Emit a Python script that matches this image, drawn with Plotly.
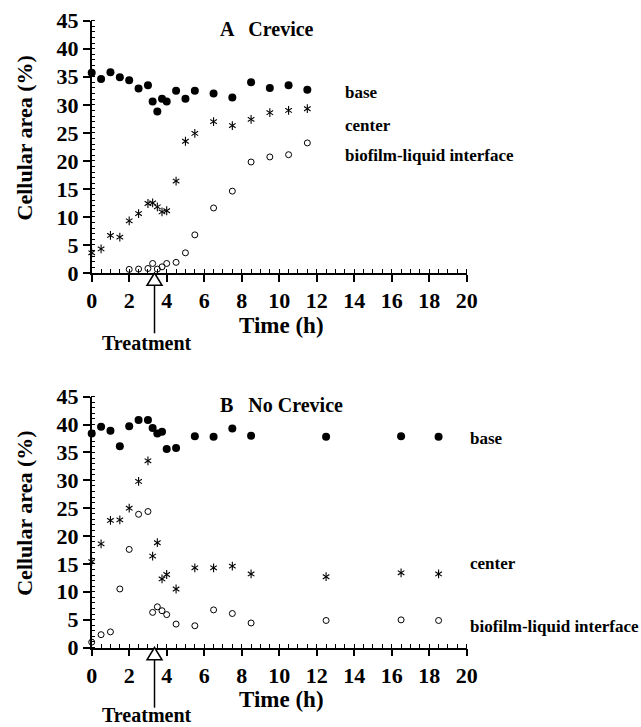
import plotly.graph_objects as go

# ---------------- data ----------------
# Panel A: Crevice
a_time = [0, 0.5, 1.0, 1.5, 2.0, 2.5, 3.0, 3.25, 3.5, 3.75, 4.0, 4.5, 5.0, 5.5, 6.5, 7.5, 8.5, 9.5, 10.5, 11.5]
a_base = [35.7, 34.6, 35.8, 34.9, 34.4, 32.9, 33.5, 30.6, 28.8, 31.1, 30.6, 32.5, 31.1, 32.5, 32.0, 31.3, 34.0, 33.0, 33.5, 32.7]
a_center = [3.6, 4.3, 6.7, 6.4, 9.3, 10.6, 12.4, 12.5, 11.8, 10.9, 11.1, 16.4, 23.5, 24.9, 27.0, 26.3, 27.4, 28.6, 29.0, 29.3]
a_iface_time = [2.0, 2.5, 3.0, 3.25, 3.5, 3.75, 4.0, 4.5, 5.0, 5.5, 6.5, 7.5, 8.5, 9.5, 10.5, 11.5]
a_iface = [0.65, 0.7, 0.8, 1.7, 0.7, 1.1, 1.7, 1.9, 3.6, 6.8, 11.6, 14.6, 19.8, 20.7, 21.1, 23.2]

# Panel B: No Crevice
b_time = [0, 0.5, 1.0, 1.5, 2.0, 2.5, 3.0, 3.25, 3.5, 3.75, 4.0, 4.5, 5.5, 6.5, 7.5, 8.5, 12.5, 16.5, 18.5]
b_base = [38.4, 39.6, 38.9, 36.1, 39.7, 40.8, 40.8, 39.4, 38.4, 38.7, 35.6, 35.8, 37.9, 37.8, 39.3, 38.0, 37.8, 37.9, 37.8]
b_center = [15.4, 18.6, 22.8, 22.9, 25.0, 29.8, 33.5, 16.4, 18.8, 12.3, 13.1, 10.5, 14.3, 14.3, 14.6, 13.2, 12.7, 13.4, 13.2]
b_iface = [0.96, 2.3, 2.8, 10.5, 17.6, 23.9, 24.4, 6.3, 7.3, 6.6, 5.9, 4.2, 3.9, 6.75, 6.1, 4.4, 4.85, 4.96, 4.85]

x_ticks = [0, 2, 4, 6, 8, 10, 12, 14, 16, 18, 20]
y_ticks = [0, 5, 10, 15, 20, 25, 30, 35, 40, 45]
TREATMENT_H = 3.35
X_MAX = 20
Y_MAX = 45

series_labels = ["base", "center", "biofilm-liquid interface"]
panel_titles = ["A   Crevice", "B   No Crevice"]

FONT = "Liberation Serif"
W, H = 641, 727

fig = go.Figure()

panels = [
    dict(t=a_time, base=a_base, center=a_center, it=a_iface_time, iface=a_iface,
         xa="x", ya="y", top=20.7, bottom=273.0,
         lab_x=0.67, lab_y=[0.717, 0.586, 0.465], title_y=0.966, ytitle_y=0.534,
         tri_base=-0.049, line_end=-0.239, treat_y=-0.279, time_y=-0.207),
    dict(t=b_time, base=b_base, center=b_center, it=b_time, iface=b_iface,
         xa="x2", ya="y2", top=396.7, bottom=647.5,
         lab_x=1.0035, lab_y=[0.833, 0.333, 0.085], title_y=0.966, ytitle_y=0.534,
         tri_base=-0.049, line_end=-0.24, treat_y=-0.27, time_y=-0.206),
]

x_left, x_right = 91.7, 466.7
shapes = []
annotations = []
for i, p in enumerate(panels):
    common = dict(xaxis=p["xa"], yaxis=p["ya"], mode="markers", cliponaxis=False,
                  showlegend=False, hoverinfo="skip")
    fig.add_trace(go.Scatter(x=p["t"], y=p["base"], name="base",
                             marker=dict(symbol="circle", size=8, color="black"), **common))
    for sym in ["y-up-open", "y-down-open"]:
        fig.add_trace(go.Scatter(x=p["t"], y=p["center"], name="center",
                                 marker=dict(symbol=sym, size=5.5, color="black",
                                             line=dict(color="black", width=1.1)), **common))
    fig.add_trace(go.Scatter(x=p["it"], y=p["iface"], name="biofilm-liquid interface",
                             marker=dict(symbol="circle-open", size=6, color="black",
                                         line=dict(color="black", width=1)), **common))

    xd = f"{p['xa']} domain"
    yd = f"{p['ya']} domain"
    tx = TREATMENT_H / X_MAX
    hw = 0.02
    shapes.append(dict(type="path", xref=xd, yref=yd,
                       path=f"M {tx},0 L {tx-hw},{p['tri_base']} L {tx+hw},{p['tri_base']} Z",
                       line=dict(color="black", width=1.5), fillcolor="white", layer="above"))
    shapes.append(dict(type="line", xref=xd, yref=yd, x0=tx, x1=tx,
                       y0=p["tri_base"], y1=p["line_end"],
                       line=dict(color="black", width=1.5)))
    annotations.append(dict(text="<b>Treatment</b>", xref=xd, yref=yd, x=0.148, y=p["treat_y"],
                            showarrow=False, xanchor="center", yanchor="middle",
                            font=dict(family=FONT, size=20, color="black")))
    for lab, ly in zip(series_labels, p["lab_y"]):
        annotations.append(dict(text=f"<b>{lab}</b>", xref=xd, yref=yd, x=p["lab_x"], y=ly,
                                showarrow=False, xanchor="left", yanchor="middle",
                                font=dict(family=FONT, size=17, color="black")))
    annotations.append(dict(text=f"<b>{panel_titles[i]}</b>", xref=xd, yref=yd, x=0.338,
                            y=p["title_y"], showarrow=False, xanchor="left", yanchor="middle",
                            font=dict(family=FONT, size=20, color="black")))
    annotations.append(dict(text="<b>Cellular area (%)</b>", xref=xd, yref=yd, x=-0.18,
                            y=p["ytitle_y"], showarrow=False, textangle=-90,
                            xanchor="center", yanchor="middle",
                            font=dict(family=FONT, size=22, color="black")))
    annotations.append(dict(text="<b>Time (h)</b>", xref=xd, yref=yd, x=0.507, y=p["time_y"],
                            showarrow=False, xanchor="center", yanchor="middle",
                            font=dict(family=FONT, size=23, color="black")))

axis_common = dict(showgrid=False, zeroline=False, showline=True, linecolor="black",
                   linewidth=1.5, ticks="outside", ticklen=7, tickwidth=1.5,
                   tickcolor="black", fixedrange=True, automargin=False,
                   tickfont=dict(family=FONT, size=22, color="black", weight="bold"))

layout_axes = {}
for i, p in enumerate(panels):
    sfx = "" if i == 0 else "2"
    ydom = [1 - p["bottom"] / H, 1 - p["top"] / H]
    xdom = [x_left / W, x_right / W]
    layout_axes[f"xaxis{sfx}"] = dict(axis_common, domain=xdom,
                                      range=[0, X_MAX], tickvals=x_ticks,
                                      anchor=f"y{sfx}",
                                      minor=dict(dtick=0.5, ticks="inside", ticklen=4,
                                                 tickwidth=1, tickcolor="black"))
    layout_axes[f"yaxis{sfx}"] = dict(axis_common, domain=ydom, range=[0, Y_MAX],
                                      tickvals=y_ticks, anchor=f"x{sfx}",
                                      minor=dict(dtick=1, ticks="inside", ticklen=4,
                                                 tickwidth=1, tickcolor="black"))

fig.update_layout(width=W, height=H, margin=dict(l=0, r=0, t=0, b=0, autoexpand=False),
                  paper_bgcolor="white", plot_bgcolor="white",
                  shapes=shapes, annotations=annotations, **layout_axes)

fig.write_html("out.html", config={"displayModeBar": False},
               post_script="document.body.style.margin='0px';"
                           "document.body.style.overflow='hidden';")
